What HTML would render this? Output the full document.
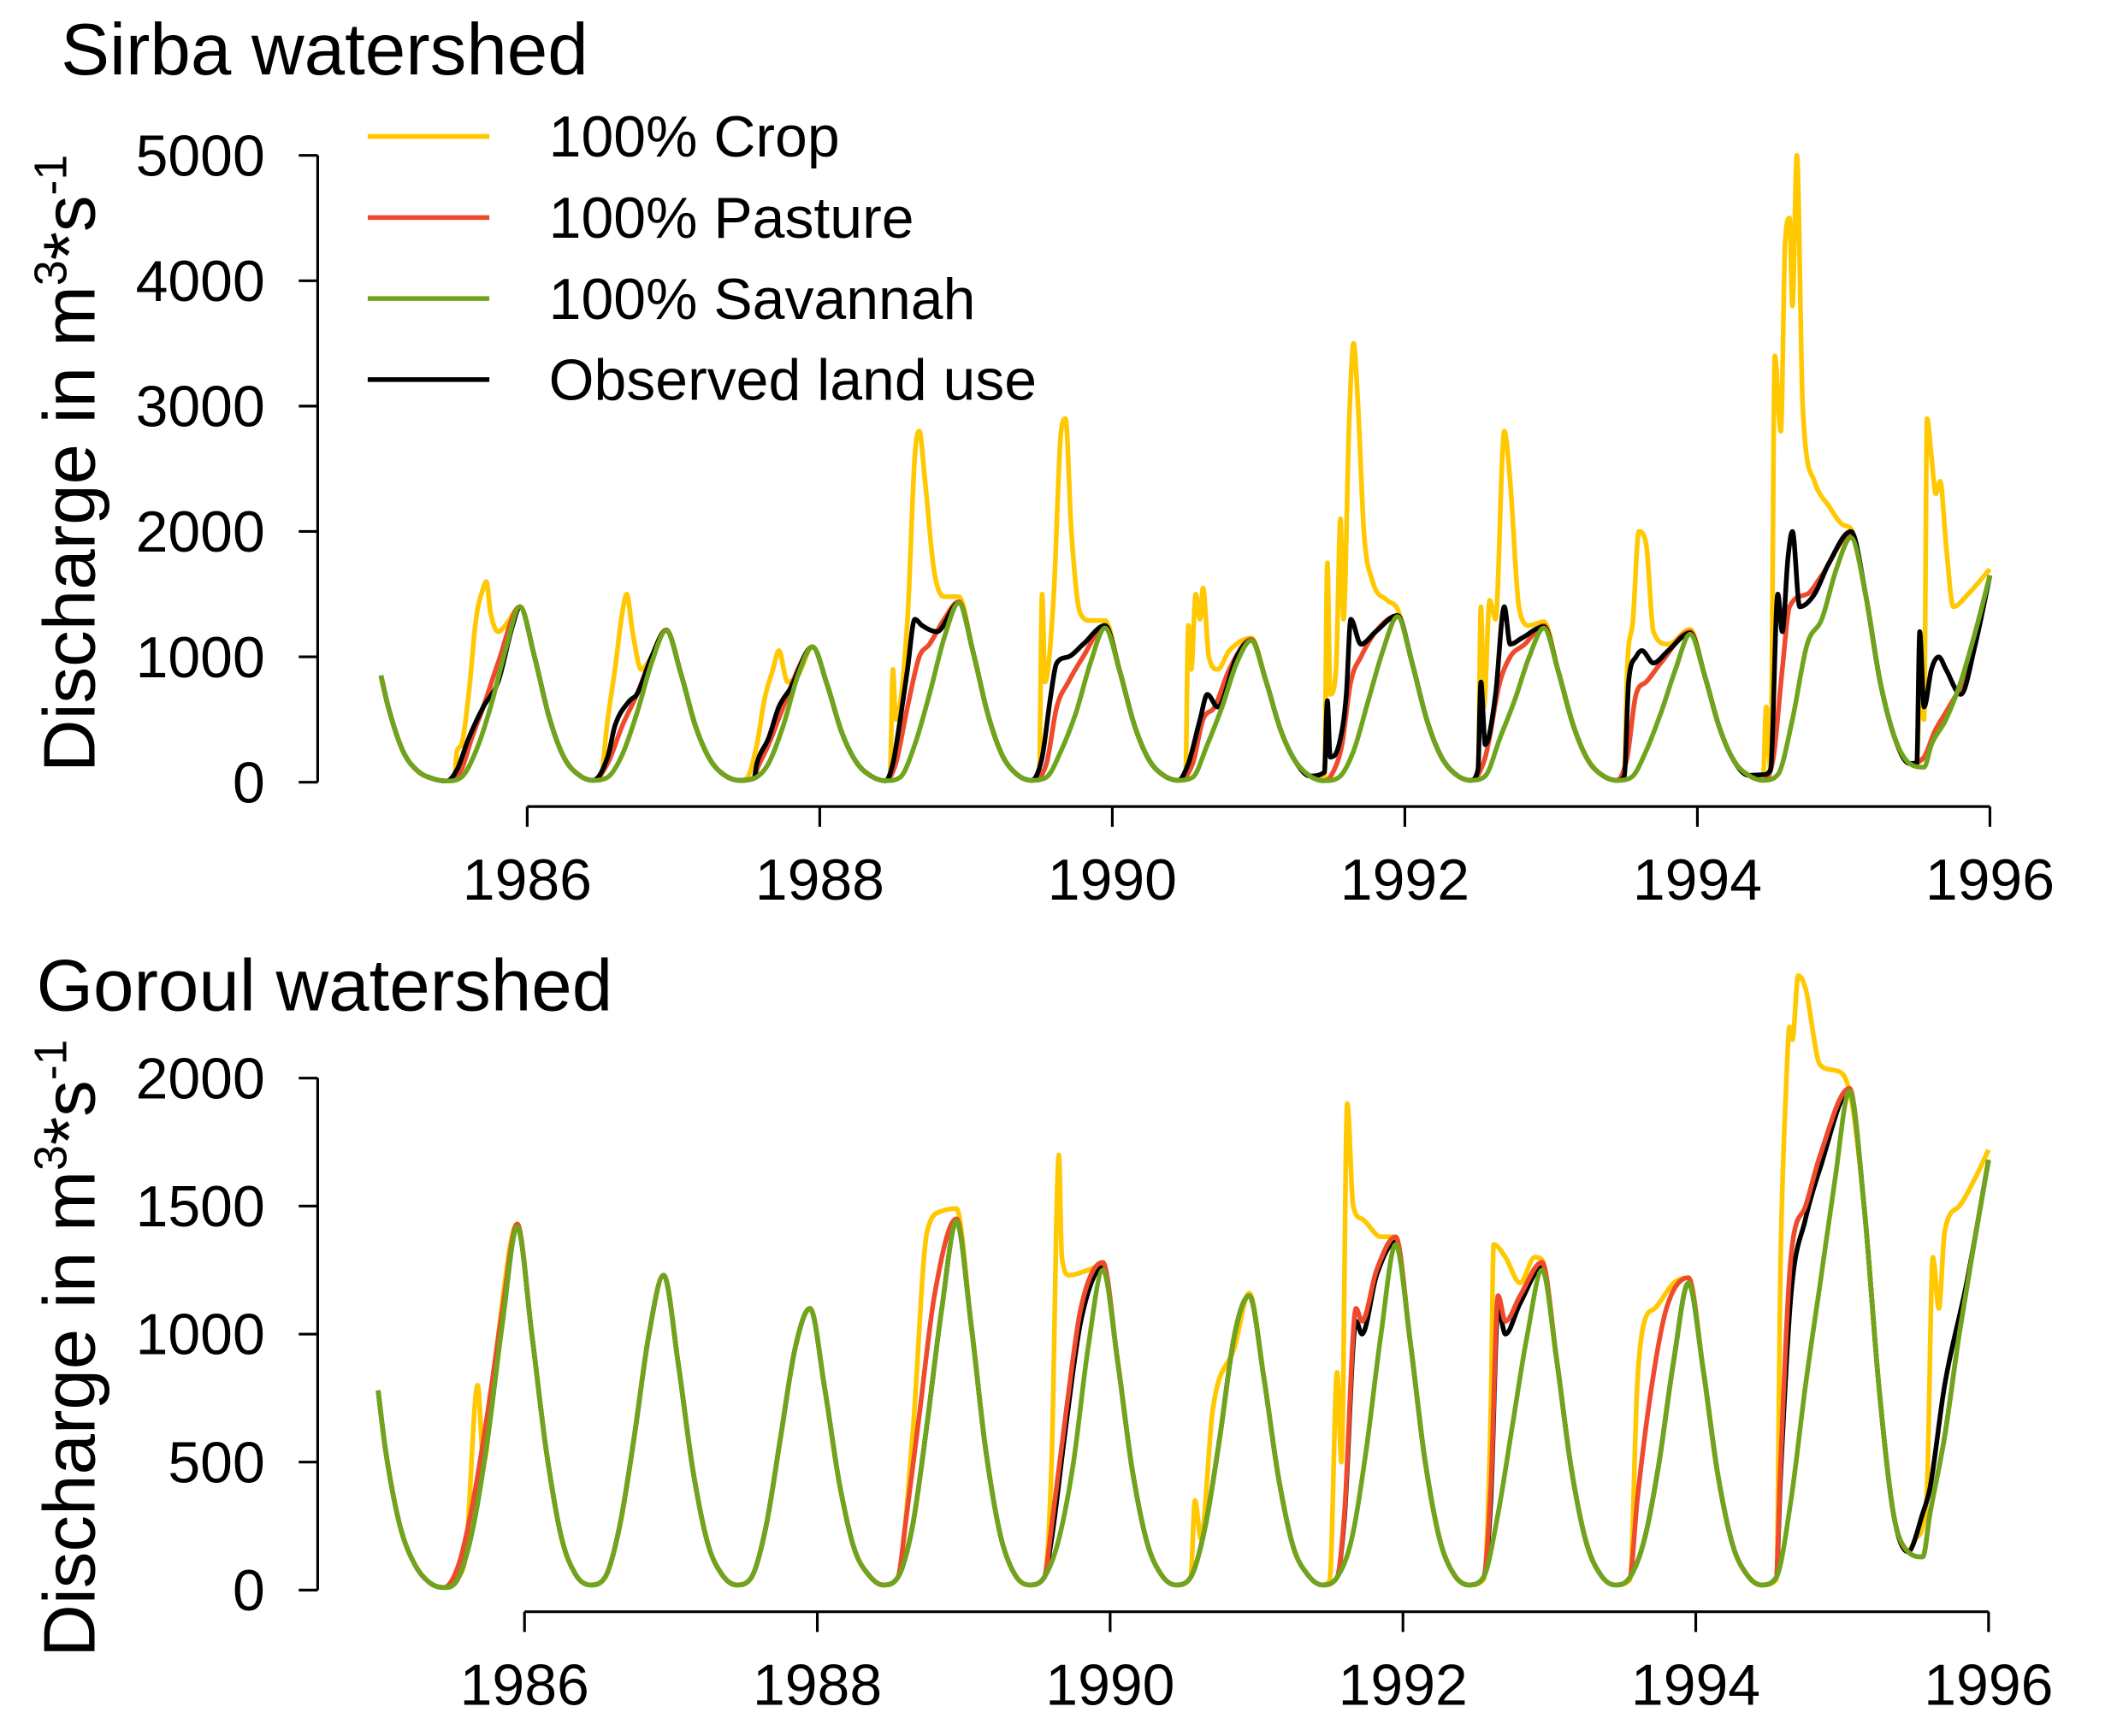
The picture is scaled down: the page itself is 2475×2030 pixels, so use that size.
<!DOCTYPE html>
<html><head><meta charset="utf-8"><style>
html,body{margin:0;padding:0;background:#fff;}
svg{display:block;}
text{font-family:"Liberation Sans",sans-serif;fill:#000;}
</style></head><body>
<svg id="chart" width="2475" height="2030" viewBox="0 0 1566 1285" preserveAspectRatio="none" xmlns="http://www.w3.org/2000/svg">
<g>
<text x="45" y="55" font-size="54">Sirba watershed</text>
<g id="top-axes"></g>
<g id="top-lines"></g>
<text transform="translate(70,343) rotate(-90)" text-anchor="middle" font-size="54">Discharge in m<tspan font-size="34" dy="-21">3</tspan><tspan dy="21">*s</tspan><tspan font-size="34" dy="-21">-1</tspan></text>
<g>
<g><line x1="272" x2="362" y1="101" y2="101" stroke="#FFC800" stroke-width="3.5"/><text x="406" y="116" font-size="43">100% Crop</text></g>
<g><line x1="272" x2="362" y1="161" y2="161" stroke="#F04A2C" stroke-width="3.5"/><text x="406" y="176" font-size="43">100% Pasture</text></g>
<g><line x1="272" x2="362" y1="221" y2="221" stroke="#6FA51C" stroke-width="3.5"/><text x="406" y="236" font-size="43">100% Savannah</text></g>
<g><line x1="272" x2="362" y1="281" y2="281" stroke="#000" stroke-width="3.5"/><text x="406" y="296" font-size="43">Observed land use</text></g>
</g>
</g>
<g>
<text x="27" y="748" font-size="54">Goroul watershed</text>
<g id="bot-axes"></g>
<g id="bot-lines"></g>
<text transform="translate(70,998) rotate(-90)" text-anchor="middle" font-size="54">Discharge in m<tspan font-size="34" dy="-21">3</tspan><tspan dy="21">*s</tspan><tspan font-size="34" dy="-21">-1</tspan></text>
</g>
</svg>
<script>
const xTickYears = [1986,1988,1990,1992,1994,1996];
const topYTicks = [0,1000,2000,3000,4000,5000];
const botYTicks = [0,500,1000,1500,2000];

// Sirba savannah (base) series
const topSavT = [1985.0,1985.05,1985.15,1985.25,1985.35,1985.45,
1985.55,1985.65,1985.75,1985.85,1985.95,1986.05,1986.15,1986.25,1986.35,1986.45,
1986.55,1986.65,1986.75,1986.85,1986.95,1987.05,1987.15,1987.25,1987.35,1987.45,
1987.55,1987.65,1987.75,1987.85,1987.95,1988.05,1988.15,1988.25,1988.35,1988.45,
1988.55,1988.65,1988.75,1988.85,1988.95,1989.05,1989.15,1989.25,1989.35,1989.45,
1989.55,1989.65,1989.75,1989.85,1989.95,1990.05,1990.15,1990.25,1990.35,1990.45,
1990.55,1990.65,1990.75,1990.85,1990.95,1991.05,1991.15,1991.25,1991.35,1991.45,
1991.55,1991.65,1991.75,1991.85,1991.95,1992.05,1992.15,1992.25,1992.35,1992.45,
1992.55,1992.65,1992.75,1992.85,1992.95,1993.05,1993.15,1993.25,1993.35,1993.45,
1993.55,1993.65,1993.75,1993.85,1993.95,1994.05,1994.15,1994.25,1994.35,1994.45,
1994.55,1994.65,1994.75,1994.85,1994.95,1995.05,1995.15,1995.25,1995.35,1995.45,1995.55,
1995.6,1995.7,1995.8,1995.9,1996.0];
const topSavV = [850,600,250,90,30,10,
40,250,600,1050,1400,1000,520,200,60,15,
40,220,550,950,1210,870,450,180,55,15,
30,150,450,850,1080,780,400,160,50,12,
40,300,700,1150,1430,1030,540,210,60,15,
40,250,550,950,1230,890,460,180,55,15,
40,300,600,950,1130,810,420,170,50,12,
40,250,650,1050,1320,950,500,200,60,15,
50,350,650,1000,1230,880,460,180,55,15,
40,250,550,900,1180,850,440,170,55,15,
60,500,1100,1300,1700,1950,1500,800,350,150,120,
300,500,800,1200,1650];

const topCropT = [1985.5,1985.52,1985.55,1985.6,1985.65,1985.7,1985.72,1985.75,1985.8,1985.85,1985.95,
1986.5,1986.55,1986.6,1986.65,1986.68,1986.72,1986.78,1986.85,1986.95,
1987.5,1987.57,1987.62,1987.68,1987.72,1987.78,1987.85,1987.95,
1988.48,1988.5,1988.52,1988.6,1988.65,1988.68,1988.72,1988.78,1988.85,1988.95,
1989.5,1989.52,1989.54,1989.6,1989.65,1989.68,1989.72,1989.78,1989.85,1989.95,
1990.5,1990.52,1990.54,1990.57,1990.6,1990.62,1990.66,1990.72,1990.8,1990.95,
1991.45,1991.47,1991.49,1991.53,1991.56,1991.58,1991.62,1991.65,1991.68,1991.72,1991.78,1991.88,1991.95,
1992.5,1992.52,1992.54,1992.58,1992.62,1992.68,1992.72,1992.78,1992.85,1992.95,
1993.5,1993.52,1993.56,1993.6,1993.65,1993.7,1993.8,1993.95,
1994.45,1994.47,1994.5,1994.53,1994.57,1994.6,1994.63,1994.65,1994.68,1994.72,1994.8,1994.9,1995.0,1995.05,
1995.5,1995.52,1995.55,1995.57,1995.6,1995.63,1995.66,1995.7,1995.75,1995.85,1996.0];
const topCropV = [30,250,300,700,1300,1550,1600,1350,1200,1250,1400,
30,500,900,1350,1500,1200,900,1000,1210,
30,300,650,900,1050,800,850,1080,
50,900,500,1300,2600,2800,2400,1700,1480,1480,
50,1500,800,1500,2800,2900,2000,1350,1290,1290,
30,1250,900,1500,1300,1550,1000,900,1050,1150,
40,1750,700,900,2100,1300,2900,3500,3000,2000,1600,1450,1380,
40,1400,600,1450,1300,2800,2400,1400,1250,1280,
40,900,1300,2000,1900,1200,1100,1220,
40,600,100,3400,2800,4300,4500,3800,5000,3000,2400,2200,2050,2020,
150,650,500,2900,2600,2300,2400,1900,1400,1500,1700];

const topObsT = [1985.52,1985.6,1985.7,1985.8,1985.9,1985.95,
1986.55,1986.6,1986.7,1986.75,1986.85,1986.95,
1987.57,1987.65,1987.72,1987.8,1987.95,
1988.5,1988.55,1988.6,1988.65,1988.7,1988.8,1988.95,
1989.52,1989.58,1989.62,1989.7,1989.8,1989.95,
1990.52,1990.6,1990.65,1990.72,1990.85,1990.95,
1991.45,1991.47,1991.49,1991.55,1991.6,1991.63,1991.7,1991.8,1991.95,
1992.5,1992.52,1992.55,1992.62,1992.68,1992.72,1992.8,1992.95,
1993.5,1993.53,1993.58,1993.62,1993.7,1993.8,1993.95,
1994.45,1994.5,1994.55,1994.58,1994.62,1994.65,1994.7,1994.8,1994.9,1995.05,
1995.5,1995.52,1995.55,1995.6,1995.65,1995.7,1995.8,1995.9,1996.0];
const topObsV = [100,350,600,800,1250,1400,
200,450,650,700,1000,1210,
150,350,600,750,1080,
150,500,900,1300,1250,1200,1430,
200,700,950,1000,1100,1250,
150,500,700,600,1000,1130,
80,650,200,300,700,1300,1100,1200,1330,
100,800,300,700,1400,1100,1150,1240,
50,800,1000,1050,950,1050,1190,
60,100,1500,1200,1800,2000,1400,1500,1750,2000,
150,1200,600,900,1000,900,700,1100,1650];

const topPasT = [1985.55,1985.62,1985.7,1985.8,1985.95,
1986.55,1986.65,1986.75,1986.85,1986.95,
1987.57,1987.65,1987.75,1987.85,1987.95,
1988.52,1988.6,1988.68,1988.75,1988.85,1988.95,
1989.55,1989.62,1989.7,1989.8,1989.95,
1990.55,1990.62,1990.7,1990.8,1990.95,
1991.5,1991.57,1991.63,1991.7,1991.8,1991.95,
1992.55,1992.65,1992.72,1992.82,1992.95,
1993.52,1993.58,1993.65,1993.75,1993.95,
1994.52,1994.58,1994.63,1994.75,1994.85,1995.05,
1995.55,1995.62,1995.72,1995.85,1996.0];
const topPasV = [100,350,600,950,1400,
150,450,700,1000,1215,
100,300,600,900,1080,
150,600,1000,1100,1300,1440,
150,600,800,1000,1250,
150,500,600,900,1140,
60,300,800,1000,1200,1330,
200,800,1000,1100,1250,
200,700,800,950,1200,
200,900,1400,1500,1650,1980,
200,400,600,900,1650];

// Goroul
const botSavT = topSavT;
const botSavV = [780,550,250,100,30,10,
50,250,600,1050,1420,1000,540,210,60,20,
50,250,600,1000,1230,885,470,185,60,20,
50,250,600,950,1100,790,420,165,60,20,
50,250,650,1100,1440,1040,550,215,60,20,
50,200,500,950,1250,900,475,190,60,20,
50,250,600,1000,1150,830,440,170,60,20,
50,200,550,1000,1350,970,510,200,60,20,
50,300,650,1000,1250,900,475,190,60,20,
50,200,500,900,1200,865,455,180,60,20,
50,350,800,1200,1600,1950,1500,800,300,150,130,
300,600,1000,1350,1680];

const botCropT = [1985.6,1985.68,1985.72,1985.8,1985.95,
1988.65,1988.75,1988.85,1988.95,
1989.55,1989.6,1989.65,1989.67,1989.72,1989.85,1989.95,
1990.55,1990.58,1990.62,1990.7,1990.85,1990.95,
1991.5,1991.55,1991.58,1991.62,1991.66,1991.72,1991.85,1991.95,
1992.55,1992.6,1992.62,1992.7,1992.8,1992.9,1992.95,
1993.55,1993.6,1993.65,1993.72,1993.85,1993.95,
1994.55,1994.58,1994.62,1994.64,1994.66,1994.7,1994.75,1994.85,1994.95,1995.05,
1995.5,1995.55,1995.58,1995.62,1995.66,1995.7,1995.8,1995.9,1996.0];
const botCropV = [150,800,500,900,1430,
600,1400,1480,1490,
50,500,1700,1300,1230,1250,1270,
50,350,200,700,950,1160,
40,850,500,1900,1500,1450,1380,1380,
40,700,1350,1300,1200,1300,1290,
40,800,1050,1100,1200,1220,
40,1300,2000,2200,2150,2400,2350,2050,2030,1950,
200,250,400,1300,1100,1400,1500,1600,1720];

const botPasT = [1985.55,1985.65,1985.75,1985.85,1985.95,
1988.6,1988.7,1988.8,1988.95,
1989.6,1989.7,1989.8,1989.95,
1991.6,1991.68,1991.72,1991.82,1991.95,
1992.6,1992.65,1992.7,1992.8,1992.95,
1993.6,1993.7,1993.8,1993.95,
1994.58,1994.65,1994.75,1994.85,1995.05];
const botPasV = [100,350,700,1100,1430,
250,700,1150,1450,
250,700,1100,1280,
300,1100,1050,1250,1380,
400,1150,1050,1150,1280,
350,800,1100,1220,
500,1300,1500,1700,1960];

const botObsT = [1989.6,1989.7,1989.8,1989.95,
1991.6,1991.68,1991.72,1991.82,1991.95,
1992.6,1992.65,1992.7,1992.8,1992.95,
1994.58,1994.65,1994.75,1994.85,1995.05,
1995.55,1995.6,1995.7,1995.85,1996.0];
const botObsV = [200,650,1050,1260,
280,1050,1000,1230,1360,
350,1100,1000,1120,1260,
450,1150,1450,1650,1950,
300,400,800,1200,1680];

const NS = "http://www.w3.org/2000/svg";
function mk(tag, attrs, parent){const e=document.createElementNS(NS,tag);for(const k in attrs)e.setAttribute(k,attrs[k]);parent.appendChild(e);return e;}

function merge(baseT, baseV, t, v){
  const wins=[];let s=0;
  for(let i=1;i<=t.length;i++){ if(i===t.length||t[i]-t[i-1]>0.3){wins.push([t[s],t[i-1]]);s=i;} }
  const pts=[];
  for(let i=0;i<baseT.length;i++){ if(!wins.some(w=>baseT[i]>=w[0]-1e-9&&baseT[i]<=w[1]+1e-9)) pts.push([baseT[i],baseV[i]]); }
  for(let i=0;i<t.length;i++) pts.push([t[i],v[i]]);
  pts.sort((a,b)=>a[0]-b[0]);
  return pts;
}

function monoPath(P){
  const n=P.length; if(n<2) return '';
  const d=[],m=[];
  for(let i=0;i<n-1;i++){const dx=P[i+1][0]-P[i][0];d.push(dx?(P[i+1][1]-P[i][1])/dx:0);}
  m[0]=d[0];m[n-1]=d[n-2];
  for(let i=1;i<n-1;i++){ m[i]=(d[i-1]*d[i]<=0)?0:(d[i-1]+d[i])/2; }
  for(let i=0;i<n-1;i++){
    if(d[i]===0){m[i]=0;m[i+1]=0;continue;}
    const a=m[i]/d[i],b=m[i+1]/d[i],h=a*a+b*b;
    if(h>9){const t=3/Math.sqrt(h);m[i]=t*a*d[i];m[i+1]=t*b*d[i];}
  }
  let s='M'+P[0][0].toFixed(1)+','+P[0][1].toFixed(1);
  for(let i=0;i<n-1;i++){
    const dx=(P[i+1][0]-P[i][0])/3;
    s+='C'+(P[i][0]+dx).toFixed(1)+','+(P[i][1]+m[i]*dx).toFixed(1)+' '+(P[i+1][0]-dx).toFixed(1)+','+(P[i+1][1]-m[i+1]*dx).toFixed(1)+' '+P[i+1][0].toFixed(1)+','+P[i+1][1].toFixed(1);
  }
  return s;
}

function panel(cfg){
  const ax=document.getElementById(cfg.axesId), ln=document.getElementById(cfg.linesId);
  const xs=t=>cfg.x0+(t-1986)*(cfg.x1-cfg.x0)/10;
  const ys=v=>cfg.y0+(v)*(cfg.yTop-cfg.y0)/cfg.vMax;
  const yl=mk('line',{x1:235,x2:235,y1:ys(cfg.yTicks[cfg.yTicks.length-1]),y2:ys(0),stroke:'#000','stroke-width':2},ax);
  
  
  cfg.yTicks.forEach(v=>{
    const tk=mk('line',{x1:221,x2:235,y1:ys(v),y2:ys(v),stroke:'#000','stroke-width':2},ax);
    
    
    const tx=mk('text',{x:196,y:ys(v)+15,'text-anchor':'end','font-size':43},ax);
    tx.textContent=v;
    
    
  });
  const xl=mk('line',{x1:xs(1986),x2:xs(1996),y1:cfg.axY,y2:cfg.axY,stroke:'#000','stroke-width':2},ax);
  
  
  xTickYears.forEach(yr=>{
    const tk=mk('line',{x1:xs(yr),x2:xs(yr),y1:cfg.axY,y2:cfg.axY+15,stroke:'#000','stroke-width':2},ax);
    
    
    const tx=mk('text',{x:xs(yr),y:cfg.axY+69,'text-anchor':'middle','font-size':43},ax);
    tx.textContent=yr;
    
    
  });
  cfg.series.forEach(s=>{
    const pts=s.t?merge(cfg.baseT,cfg.baseV,s.t,s.v):cfg.baseT.map((t,i)=>[t,cfg.baseV[i]]);
    const px=pts.map(p=>[xs(p[0]),ys(p[1])]);
    const p=mk('path',{d:monoPath(px),fill:'none',stroke:s.color,'stroke-width':3.5,'stroke-linejoin':'round'},ln);
    
    
  });
}

panel({axesId:'top-axes',linesId:'top-lines',x0:390,x1:1472,y0:579,yTop:115,vMax:5000,axY:597,yTicks:topYTicks,
  baseT:topSavT,baseV:topSavV,
  series:[{name:'sirba-crop-line',color:'#FFC800',t:topCropT,v:topCropV},
          {name:'sirba-pasture-line',color:'#F04A2C',t:topPasT,v:topPasV},
          {name:'sirba-observed-line',color:'#000',t:topObsT,v:topObsV},
          {name:'sirba-savannah-line',color:'#6FA51C'}]});
panel({axesId:'bot-axes',linesId:'bot-lines',x0:388,x1:1471,y0:1177,yTop:798,vMax:2000,axY:1193,yTicks:botYTicks,
  baseT:botSavT,baseV:botSavV,
  series:[{name:'goroul-crop-line',color:'#FFC800',t:botCropT,v:botCropV},
          {name:'goroul-observed-line',color:'#000',t:botObsT,v:botObsV},
          {name:'goroul-pasture-line',color:'#F04A2C',t:botPasT,v:botPasV},
          {name:'goroul-savannah-line',color:'#6FA51C'}]});
</script>
</body></html>
